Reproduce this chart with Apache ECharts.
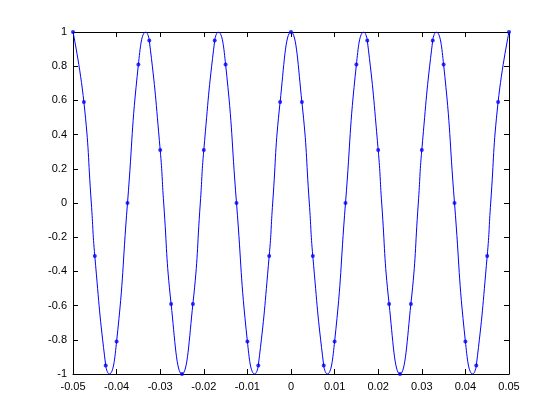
<!DOCTYPE html>
<html>
<head>
<meta charset="utf-8">
<script src="https://cdn.jsdelivr.net/npm/echarts@6/dist/echarts.min.js"></script>
<style>html,body{margin:0;padding:0;background:#fff;}#c{width:560px;height:420px;}</style>
</head>
<body>
<div id="c"></div>
<script>
// Sample points (markers)
var sampleT = [-0.05,-0.0475,-0.045,-0.0425,-0.04,-0.0375,-0.035,-0.0325,-0.03,-0.0275,-0.025,-0.0225,-0.02,-0.0175,-0.015,-0.0125,-0.01,-0.0075,-0.005,-0.0025,0,0.0025,0.005,0.0075,0.01,0.0125,0.015,0.0175,0.02,0.0225,0.025,0.0275,0.03,0.0325,0.035,0.0375,0.04,0.0425,0.045,0.0475,0.05];
var sampleV = [1,0.59,-0.31,-0.95,-0.81,0,0.81,0.95,0.31,-0.59,-1,-0.59,0.31,0.95,0.81,0,-0.81,-0.95,-0.31,0.59,1,0.59,-0.31,-0.95,-0.81,0,0.81,0.95,0.31,-0.59,-1,-0.59,0.31,0.95,0.81,0,-0.81,-0.95,-0.31,0.59,1];
// Curve features: peaks, troughs, zero crossings
var peakT = [-0.0333,-0.0167,0.0167,0.0333];
var peakV = [1,1,1,1];
var troughT = [-0.0417,-0.0083,0.0083,0.0417];
var troughV = [-1,-1,-1,-1];
var zeroT = [-0.0458,-0.0292,-0.0208,-0.0042,0.0042,0.0208,0.0292,0.0458];
var zeroV = [0,0,0,0,0,0,0,0];
var xTicks = [-0.05,-0.04,-0.03,-0.02,-0.01,0,0.01,0.02,0.03,0.04,0.05];
var yTicks = [-1,-0.8,-0.6,-0.4,-0.2,0,0.2,0.4,0.6,0.8,1];

function pairs(t, v){ return t.map(function(x,i){ return [x, v[i]]; }); }
var curve = pairs(sampleT, sampleV).concat(pairs(peakT, peakV), pairs(troughT, troughV), pairs(zeroT, zeroV));
curve.sort(function(a,b){ return a[0]-b[0]; });

var fmt = function(v){ return String(parseFloat(v.toFixed(2))); };
var font = {fontFamily: 'Liberation Sans, Arial, sans-serif', fontSize: 11, color: '#000'};
function axisBase(extra){
  return Object.assign({
    type: 'value',
    axisLine: {show: true, onZero: false, lineStyle: {color: '#000', width: 1}},
    axisTick: {show: true, inside: true, length: 5, lineStyle: {color: '#000'}},
    splitLine: {show: false}
  }, extra);
}
var chart = echarts.init(document.getElementById('c'), null, {renderer: 'canvas'});
chart.setOption({
  animation: false,
  backgroundColor: '#fff',
  grid: {left: 73, top: 32, width: 436, height: 342, containLabel: false},
  xAxis: [
    axisBase({position: 'bottom', min: xTicks[0], max: xTicks[xTicks.length-1], interval: 0.01,
      axisLabel: Object.assign({formatter: fmt, margin: 7}, font)}),
    axisBase({position: 'top', min: xTicks[0], max: xTicks[xTicks.length-1], interval: 0.01,
      axisLabel: {show: false}})
  ],
  yAxis: [
    axisBase({position: 'left', min: yTicks[0], max: yTicks[yTicks.length-1], interval: 0.2,
      axisLabel: Object.assign({formatter: fmt, margin: 6}, font)}),
    axisBase({position: 'right', min: yTicks[0], max: yTicks[yTicks.length-1], interval: 0.2,
      axisLabel: {show: false}})
  ],
  series: [
    {type: 'line', data: curve, smooth: 0.5, showSymbol: false,
     lineStyle: {color: '#0000ff', width: 1}, itemStyle: {color: '#0000ff'}},
    {type: 'scatter', data: pairs(sampleT, sampleV), symbol: 'circle', symbolSize: 4,
     itemStyle: {color: '#0000ff'}}
  ]
});
</script>
</body>
</html>
